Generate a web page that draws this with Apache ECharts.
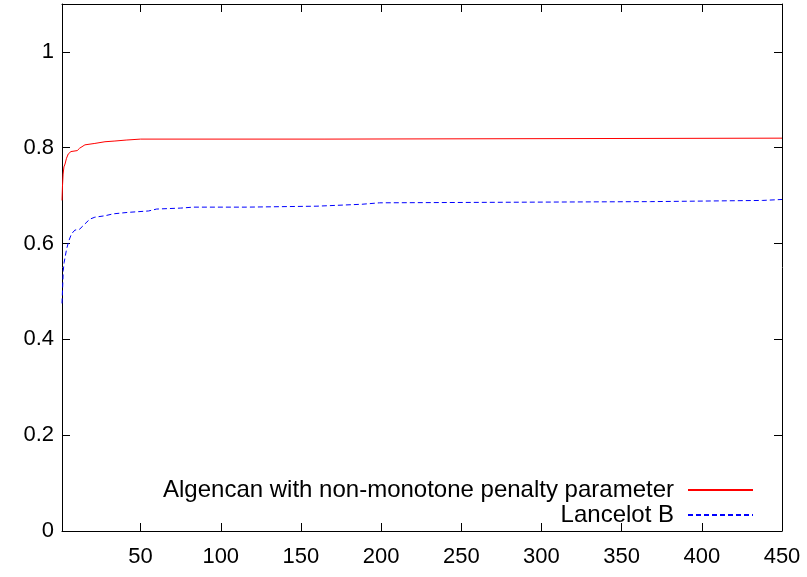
<!DOCTYPE html>
<html>
<head>
<meta charset="utf-8">
<script src="https://cdn.jsdelivr.net/npm/echarts@6/dist/echarts.min.js"></script>
<style>
  html, body { margin: 0; padding: 0; background: #fff; }
  #chart { width: 807px; height: 577px; }
</style>
</head>
<body>
<div id="chart"></div>
<script>
// performance profile data
var algencanName = 'Algencan with non-monotone penalty parameter';
var lancelotName = 'Lancelot B';

var algencanX = [1, 1.3, 1.7, 2.2, 2.9, 3.8, 4.9, 6.6, 10.5, 11, 12, 15.3, 21.5, 27.8, 34, 41, 50, 165, 166, 450];
var algencanY = [0.69, 0.72, 0.745, 0.76, 0.766, 0.778, 0.787, 0.792, 0.794, 0.797, 0.799, 0.806, 0.809, 0.8125, 0.814, 0.816, 0.818, 0.818, 0.82, 0.82];

var lancelotX = [1, 1.4, 1.8, 2.3, 2.9, 3.9, 5.3, 6.9, 9, 12, 15.3, 18.4, 21.5, 27.8, 33, 42, 55, 60, 75, 83, 116, 117, 160, 161, 188, 189, 199, 200, 368, 369, 438, 439, 450];
var lancelotY = [0.475, 0.51, 0.544, 0.56, 0.571, 0.589, 0.606, 0.62, 0.628, 0.63, 0.641, 0.651, 0.655, 0.658, 0.662, 0.665, 0.668, 0.672, 0.674, 0.676, 0.676, 0.678, 0.678, 0.682, 0.682, 0.685, 0.685, 0.6875, 0.6875, 0.69, 0.69, 0.692, 0.692];

function pairs(xs, ys) {
    return xs.map(function (x, i) { return [x, ys[i]]; });
}

var font = 'Liberation Sans, Arial, sans-serif';
var frame = { show: true, onZero: false, lineStyle: { color: '#000', width: 1 } };
var tickIn = { show: true, inside: true, length: 8, lineStyle: { color: '#000' } };

function legendBox(name, top) {
    return {
        data: [name],
        right: 48, top: top,
        align: 'right',
        itemWidth: 65, itemHeight: 14,
        itemStyle: { opacity: 0 },
        textStyle: { fontFamily: font, fontSize: 24, color: '#000', padding: [0, 9, 0, 0] }
    };
}

var chart = echarts.init(document.getElementById('chart'));
chart.setOption({
    animation: false,
    backgroundColor: '#fff',
    grid: { left: 62, right: 25, top: 4, bottom: 46 },
    legend: [legendBox(algencanName, 473), legendBox(lancelotName, 498)],
    xAxis: [
        {
            type: 'value', min: 1, max: 450, splitNumber: 9,
            axisLine: frame, axisTick: tickIn, splitLine: { show: false },
            axisLabel: {
                fontFamily: font, fontSize: 22, color: '#000', margin: 15,
                formatter: function (v) { return v === 1 ? '' : String(v); }
            }
        },
        {
            type: 'value', min: 1, max: 450, splitNumber: 9, position: 'top',
            axisLine: frame, axisTick: tickIn, splitLine: { show: false },
            axisLabel: { show: false }
        }
    ],
    yAxis: [
        {
            type: 'value', min: 0, max: 1.1, interval: 0.2,
            axisLine: frame, axisTick: tickIn, splitLine: { show: false },
            axisLabel: {
                fontFamily: font, fontSize: 22, color: '#000', margin: 8,
                formatter: function (v) { return v > 1.05 ? '' : String(Math.round(v * 10) / 10); }
            }
        },
        {
            type: 'value', min: 0, max: 1.1, interval: 0.2, position: 'right',
            axisLine: frame, axisTick: tickIn, splitLine: { show: false },
            axisLabel: { show: false }
        }
    ],
    series: [
        {
            name: algencanName,
            type: 'line',
            data: pairs(algencanX, algencanY),
            showSymbol: false, symbol: 'none',
            lineStyle: { color: '#ff0000', width: 1 },
            itemStyle: { color: '#ff0000' }
        },
        {
            name: lancelotName,
            type: 'line',
            data: pairs(lancelotX, lancelotY),
            showSymbol: false, symbol: 'none',
            lineStyle: { color: '#0000ff', width: 1, type: [5, 3] },
            itemStyle: { color: '#0000ff' }
        }
    ]
});
</script>
</body>
</html>
